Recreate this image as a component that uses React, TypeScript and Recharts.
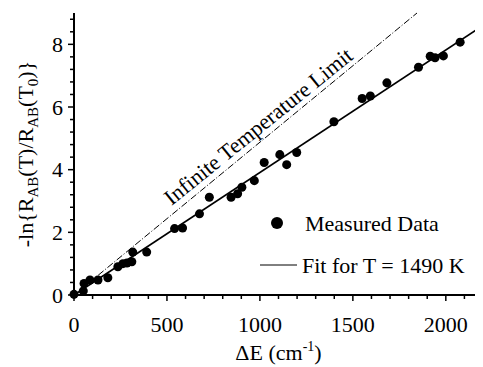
import { ScatterChart, Scatter, XAxis, YAxis, ZAxis, ReferenceLine, ReferenceDot, Legend } from "recharts"

const FONT = '"Liberation Serif", "Times New Roman", serif'

// measured points
const deltaE = [0, 50, 54, 86, 129, 182, 236, 263, 285, 311, 316, 391, 541, 584, 675, 728, 845, 880, 903, 970, 1023, 1107, 1144, 1198, 1398, 1550, 1594, 1683, 1853, 1916, 1942, 1987, 2077]
const lnRatio = [0.02, 0.13, 0.37, 0.48, 0.48, 0.55, 0.9, 1.0, 1.02, 1.06, 1.37, 1.37, 2.12, 2.14, 2.59, 3.12, 3.12, 3.23, 3.44, 3.65, 4.23, 4.48, 4.16, 4.55, 5.53, 6.27, 6.35, 6.77, 7.27, 7.62, 7.57, 7.63, 8.07]

// fit for T = 1490 K and the infinite temperature limit (end points)
const fitLine = [{ x: 0, y: 0 }, { x: 2200, y: 8.6 }]
const limitLine = [{ x: 130, y: 0.63 }, { x: 1845, y: 9 }]

const xTicks = [0, 100, 200, 300, 400, 500, 600, 700, 800, 900, 1000, 1100, 1200, 1300, 1400, 1500, 1600, 1700, 1800, 1900, 2000, 2100]
const yTicks = [0, 0.4, 0.8, 1.2, 1.6, 2, 2.4, 2.8, 3.2, 3.6, 4, 4.4, 4.8, 5.2, 5.6, 6, 6.4, 6.8, 7.2, 7.6, 8, 8.4, 8.8]

const legendItems = ["Measured Data", "Fit for T = 1490 K"]
const limitLabel = { text: "Infinite Temperature Limit", x: 990, y: 5.39, angle: -39 }

const measured = deltaE.map((x, i) => ({ x, y: lnRatio[i] }))

function XTick(props: any) {
  const { x, y, payload } = props
  const major = payload.value % 500 === 0
  return (
    <g>
      <line x1={x} x2={x} y1={y} y2={y + (major ? 6 : 4)} stroke="#000" strokeWidth={1.5} />
      {major && (
        <text x={x} y={y + 37} textAnchor="middle" fontSize={22} fontFamily={FONT} fill="#000">
          {payload.value}
        </text>
      )}
    </g>
  )
}

function YTick(props: any) {
  const { x, y, payload } = props
  const major = Math.abs(payload.value % 2) < 1e-9
  return (
    <g>
      <line x1={x - (major ? 6 : 4)} x2={x} y1={y} y2={y} stroke="#000" strokeWidth={1.5} />
      {major && (
        <text x={x - 11} y={y} dy="0.35em" textAnchor="end" fontSize={22} fontFamily={FONT} fill="#000">
          {payload.value}
        </text>
      )}
    </g>
  )
}

function YLabel(props: any) {
  const { viewBox } = props
  const cx = viewBox.x + 17
  const cy = viewBox.y + viewBox.height / 2
  return (
    <text x={cx} y={cy} transform={`rotate(-90 ${cx} ${cy})`} textAnchor="middle" dy="0.35em" fontSize={22} fontFamily={FONT} fill="#000">
      <tspan>-ln{"{"}R</tspan>
      <tspan fontSize={15} dy={5}>AB</tspan>
      <tspan dy={-5}>(T)/R</tspan>
      <tspan fontSize={15} dy={5}>AB</tspan>
      <tspan dy={-5}>(T</tspan>
      <tspan fontSize={15} dy={5}>0</tspan>
      <tspan dy={-5}>){"}"}</tspan>
    </text>
  )
}

function XLabel(props: any) {
  const { viewBox } = props
  const cx = viewBox.x + viewBox.width / 2
  const cy = viewBox.y + 65
  return (
    <text x={cx} y={cy} textAnchor="middle" fontSize={22} fontFamily={FONT} fill="#000">
      <tspan>ΔE (cm</tspan>
      <tspan fontSize={14} dy={-9}>-1</tspan>
      <tspan dy={9}>)</tspan>
    </text>
  )
}

const renderLegend = () => (
  <svg width={235} height={80}>
    <circle cx={24} cy={20} r={6} fill="#000" />
    <text x={52} y={20} dy="0.35em" fontSize={22} fontFamily={FONT} fill="#000">{legendItems[0]}</text>
    <line x1={7} x2={44} y1={62} y2={62} stroke="#000" strokeWidth={1} />
    <text x={49} y={62} dy="0.35em" fontSize={22} fontFamily={FONT} fill="#000">{legendItems[1]}</text>
  </svg>
)

export default function App() {
  return (
    <ScatterChart width={475} height={359} margin={{ top: 5, right: 0, bottom: 0, left: 0 }}>
      <XAxis
        type="number"
        dataKey="x"
        domain={[0, 2200]}
        ticks={xTicks}
        interval={0}
        tickSize={0}
        tickMargin={0}
        tickLine={false}
        tick={<XTick />}
        height={72}
        axisLine={{ stroke: "#000", strokeWidth: 2 }}
        label={<XLabel />}
      />
      {/* top frame of the plot */}
      <XAxis
        xAxisId="top"
        orientation="top"
        type="number"
        dataKey="x"
        domain={[0, 2200]}
        height={0}
        tick={false}
        tickLine={false}
        axisLine={{ stroke: "#000", strokeWidth: 2 }}
      />
      <YAxis
        type="number"
        dataKey="y"
        domain={[0, 9]}
        ticks={yTicks}
        interval={0}
        tickSize={0}
        tickMargin={0}
        tickLine={false}
        tick={<YTick />}
        width={66}
        axisLine={{ stroke: "#000", strokeWidth: 2 }}
        label={<YLabel />}
      />
      <ZAxis range={[55, 55]} />
      <ReferenceLine segment={limitLine} stroke="#000" strokeWidth={1} strokeDasharray="7 2 1 2" ifOverflow="visible" />
      <ReferenceLine segment={fitLine} stroke="#000" strokeWidth={1.6} ifOverflow="visible" />
      <ReferenceDot
        x={limitLabel.x}
        y={limitLabel.y}
        r={0}
        shape={(p: any) => (
          <text
            x={p.cx}
            y={p.cy}
            transform={`rotate(${limitLabel.angle} ${p.cx} ${p.cy})`}
            textAnchor="middle"
            dy="0.35em"
            fontSize={22}
            fontFamily={FONT}
            fill="#000"
          >
            {limitLabel.text}
          </text>
        )}
      />
      <Scatter name={legendItems[0]} data={measured} fill="#000" isAnimationActive={false} />
      <Legend
        content={renderLegend}
        layout="vertical"
        align="center"
        verticalAlign="middle"
        wrapperStyle={{ left: 245, top: 195, width: 235 }}
      />
    </ScatterChart>
  )
}
